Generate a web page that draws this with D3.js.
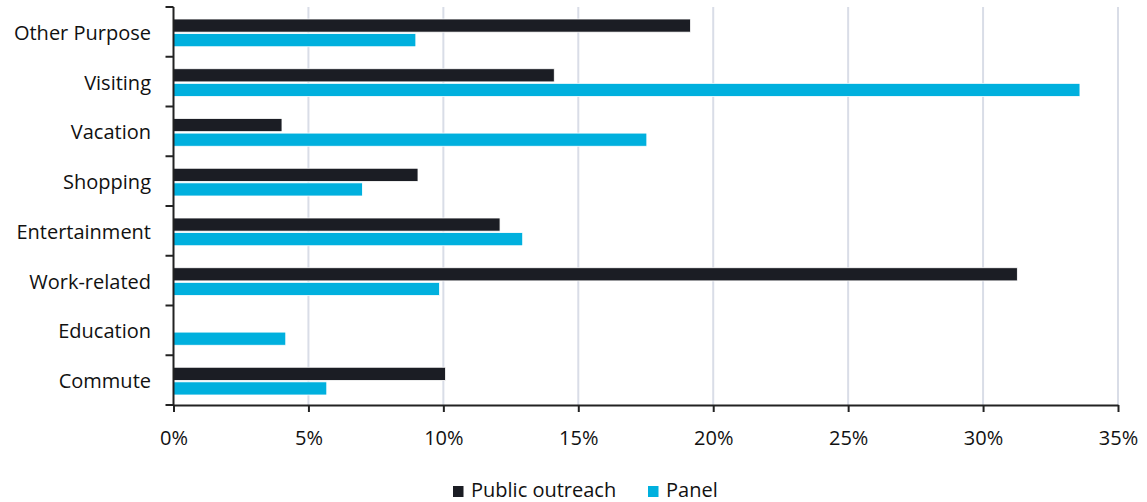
<!DOCTYPE html>
<html><head><meta charset="utf-8">
<script src="https://cdn.jsdelivr.net/npm/d3@7"></script>
<style>body{margin:0;background:#fff;}svg{display:block;font-family:"Open Sans", Lato, sans-serif;}</style>
</head><body>
<svg id="chart" width="1147" height="502"></svg>
<script>
const categories = ["Other Purpose","Visiting","Vacation","Shopping","Entertainment","Work-related","Education","Commute"];
const seriesNames = ["Public outreach","Panel"];
const publicOutreach = [19.16, 14.11, 4.02, 9.06, 12.10, 31.27, 0, 10.08];
const panel = [8.98, 33.59, 17.54, 7.00, 12.94, 9.86, 4.16, 5.68];
const xTicks = [0,5,10,15,20,25,30,35];
const colors = {"Public outreach":"#1b1d24","Panel":"#00b0de"};

const svg = d3.select("#chart");
const x = d3.scaleLinear().domain([0,35]).range([173.5,1118]);
const y = d3.scaleBand().domain(categories).range([7,405]).padding(0);
const sub = d3.scaleBand().domain(seriesNames).range([12, y.bandwidth()-10]).paddingInner(0.1);

// gridlines
svg.append("g").selectAll("line").data(xTicks.filter(d=>d>0)).join("line")
  .attr("x1",d=>x(d)).attr("x2",d=>x(d)).attr("y1",7).attr("y2",405)
  .attr("stroke","#d9dde7").attr("stroke-width",2);

// bars
const rows = categories.map((c,i)=>({cat:c, vals:[{s:"Public outreach",v:publicOutreach[i]},{s:"Panel",v:panel[i]}]}));
const g = svg.append("g");
rows.forEach(r=>{
  g.selectAll(null).data(r.vals.filter(d=>d.v>0)).join("rect")
    .attr("x",x(0)).attr("y",d=>y(r.cat)+sub(d.s))
    .attr("width",d=>x(d.v)-x(0)).attr("height",sub.bandwidth())
    .attr("fill",d=>colors[d.s]).attr("stroke","#fff").attr("stroke-width",0.8);
});

// y axis
svg.append("line").attr("x1",x(0)).attr("x2",x(0)).attr("y1",7).attr("y2",405).attr("stroke","#222").attr("stroke-width",2);
const yTickPos = categories.map(c=>y(c)).concat([y.range()[1]]);
svg.append("g").selectAll("line").data(yTickPos).join("line")
  .attr("x1",x(0)-8).attr("x2",x(0)).attr("y1",d=>d).attr("y2",d=>d)
  .attr("stroke","#222").attr("stroke-width",2);
svg.append("g").selectAll("text").data(categories).join("text")
  .attr("x",151).attr("y",d=>y(d)+y.bandwidth()/2+8)
  .attr("text-anchor","end")
  .attr("font-size",20).attr("fill","#111").text(d=>d);

// x axis
const xAxis = d3.axisBottom(x).tickValues(xTicks).tickFormat(d=>d+"%").tickSize(7).tickSizeOuter(0);
const xg = svg.append("g").attr("transform","translate(0,405)").call(xAxis);
xg.select(".domain").attr("stroke","#222").attr("stroke-width",2);
xg.selectAll(".tick line").attr("stroke","#222").attr("stroke-width",2);
xg.selectAll(".tick text").attr("font-size",20).attr("fill","#111")
  .attr("font-family","'Open Sans', Lato, sans-serif").attr("y",40).attr("dy",0);

// legend
const leg = svg.append("g");
const legItems = [{s:"Public outreach",x:453},{s:"Panel",x:648}];
legItems.forEach(it=>{
  leg.append("rect").attr("x",it.x).attr("y",486).attr("width",10.5).attr("height",11).attr("fill",colors[it.s]);
  leg.append("text").attr("x",it.x+18).attr("y",497)
    .attr("font-size",20).attr("fill","#111").text(it.s);
});
</script>
</body></html>
